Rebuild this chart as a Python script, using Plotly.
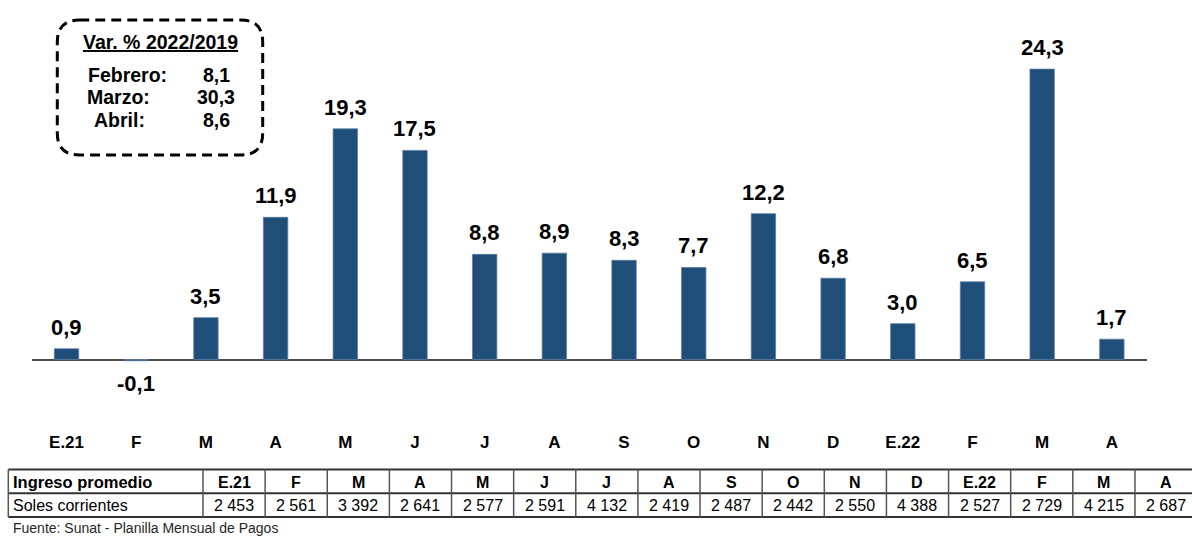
import plotly.graph_objects as go

# ---------------- data ----------------
categories = ["E.21", "F", "M", "A", "M", "J", "J", "A", "S", "O", "N", "D", "E.22", "F", "M", "A"]
var_pct = [0.9, -0.1, 3.5, 11.9, 19.3, 17.5, 8.8, 8.9, 8.3, 7.7, 12.2, 6.8, 3.0, 6.5, 24.3, 1.7]
ingreso = [2453, 2561, 3392, 2641, 2577, 2591, 4132, 2419, 2487, 2442, 2550, 4388, 2527, 2729, 4215, 2687]
table_row1_label = "Ingreso promedio"
table_row2_label = "Soles corrientes"
box_title = "Var. % 2022/2019"
box_labels = ["Febrero:", "Marzo:", "Abril:"]
box_values = [8.1, 30.3, 8.6]
source_text = "Fuente: Sunat - Planilla Mensual de Pagos"

# ---------------- geometry helpers ----------------
W, H = 1192, 536
def fx(px):
    return px / W
def fy(py):
    return 1 - py / H

def fmt_dec(v):
    return f"{v:.1f}".replace(".", ",")

def fmt_thousands(v):
    return f"{v:,}".replace(",", " ")

SANS = "Liberation Sans, Arial, sans-serif"
NARROW = "Liberation Sans Narrow, Arial Narrow, Liberation Sans, Arial, sans-serif"
BAR_COLOR = "#1F4E79"

plot_top, plot_bottom, zero_px = 0, 430, 359.5
px_per_unit = 11.95
y_top = (zero_px - plot_top) / px_per_unit
y_bot = -(plot_bottom - zero_px) / px_per_unit

xs = list(range(len(categories)))

fig = go.Figure()
fig.add_trace(go.Bar(
    x=xs, y=var_pct,
    marker=dict(color=BAR_COLOR, line=dict(color="#5C7EA3", width=0.8)),
    hoverinfo="skip",
))

annotations = []
# value labels
for x, v in zip(xs, var_pct):
    if v >= 0:
        annotations.append(dict(x=x, y=v, xref="x", yref="y", text=fmt_dec(v),
                                showarrow=False, yanchor="bottom", yshift=7,
                                font=dict(family=SANS, size=22, color="black", weight="bold")))
    else:
        annotations.append(dict(x=x, y=v, xref="x", yref="y", text=fmt_dec(v),
                                showarrow=False, yanchor="top", yshift=-8,
                                font=dict(family=SANS, size=22, color="black", weight="bold")))

# --- info box ---
bx0, bx1, by0, by1, r = 57.3, 262.7, 20, 155, 22
def P(x, y):
    return f"{fx(x):.6f},{fy(y):.6f}"
path = (f"M {P(bx0 + r, by0)} L {P(bx1 - r, by0)} Q {P(bx1, by0)} {P(bx1, by0 + r)} "
        f"L {P(bx1, by1 - r)} Q {P(bx1, by1)} {P(bx1 - r, by1)} "
        f"L {P(bx0 + r, by1)} Q {P(bx0, by1)} {P(bx0, by1 - r)} "
        f"L {P(bx0, by0 + r)} Q {P(bx0, by0)} {P(bx0 + r, by0)} Z")
shapes = [dict(type="path", path=path, xref="paper", yref="paper",
               line=dict(color="black", width=3, dash="10px,6px"))]

annotations.append(dict(x=fx(160), y=fy(41.7), xref="paper", yref="paper",
                        text=f"<u>{box_title}</u>", showarrow=False,
                        xanchor="center", yanchor="middle",
                        font=dict(family=SANS, size=19.5, color="black", weight="bold")))
label_left = [86, 85, 92]
row_y = [75, 97.3, 120]
for lab, val, lx, ry in zip(box_labels, box_values, label_left, row_y):
    annotations.append(dict(x=fx(lx), y=fy(ry), xref="paper", yref="paper", text=lab,
                            showarrow=False, xanchor="left", yanchor="middle",
                            font=dict(family=SANS, size=19.5, color="black", weight="bold")))
    annotations.append(dict(x=fx(216), y=fy(ry), xref="paper", yref="paper", text=fmt_dec(val),
                            showarrow=False, xanchor="center", yanchor="middle",
                            font=dict(family=SANS, size=19.5, color="black", weight="bold")))

# --- table ---
t_left, first_w, col_w = 8.3, 194.7, 62.13
t_top, t_mid, t_bot = 469.5, 493.2, 517
t_right = W + 2
line_h = dict(color="#333333", width=2)
line_v = dict(color="#555555", width=1.5)
for yy in (t_top, t_mid, t_bot):
    shapes.append(dict(type="line", xref="paper", yref="paper",
                       x0=fx(t_left), x1=fx(t_right), y0=fy(yy), y1=fy(yy), line=line_h))
col_edges = [t_left, t_left + first_w] + [t_left + first_w + col_w * (k + 1) for k in range(len(categories) - 1)]
for xe in col_edges:
    shapes.append(dict(type="line", xref="paper", yref="paper",
                       x0=fx(xe), x1=fx(xe), y0=fy(t_top), y1=fy(t_bot), line=line_v))

hdr_y, dat_y = 482, 505.5
annotations.append(dict(x=fx(t_left + 3), y=fy(hdr_y), xref="paper", yref="paper",
                        text=table_row1_label, showarrow=False, xanchor="left", yanchor="middle",
                        font=dict(family=NARROW, size=16.5, color="black", weight="bold")))
annotations.append(dict(x=fx(t_left + 3), y=fy(dat_y), xref="paper", yref="paper",
                        text=table_row2_label, showarrow=False, xanchor="left", yanchor="middle",
                        font=dict(family=NARROW, size=16, color="black")))
for k, (cat, val) in enumerate(zip(categories, ingreso)):
    cx = t_left + first_w + col_w * (k + 0.5)
    annotations.append(dict(x=fx(cx), y=fy(hdr_y), xref="paper", yref="paper", text=cat,
                            showarrow=False, xanchor="center", yanchor="middle",
                            font=dict(family=NARROW, size=16, color="black", weight="bold")))
    annotations.append(dict(x=fx(cx), y=fy(dat_y), xref="paper", yref="paper",
                            text=fmt_thousands(val), showarrow=False,
                            xanchor="center", yanchor="middle",
                            font=dict(family=NARROW, size=16, color="black")))

annotations.append(dict(x=fx(t_left + 3), y=fy(527.7), xref="paper", yref="paper",
                        text=source_text, showarrow=False, xanchor="left", yanchor="middle",
                        font=dict(family=NARROW, size=14, color="#262626")))

fig.update_layout(
    width=W, height=H,
    margin=dict(l=0, r=0, t=0, b=0),
    paper_bgcolor="white", plot_bgcolor="white",
    showlegend=False,
    bargap=0.65,
    xaxis=dict(domain=[fx(31.7), fx(1146.7)], range=[-0.5, len(categories) - 0.5],
               tickmode="array", tickvals=xs, ticktext=categories,
               showgrid=False, showline=False, zeroline=False, ticks="",
               tickfont=dict(family=SANS, size=17, color="black", weight="bold")),
    yaxis=dict(domain=[fy(plot_bottom), fy(plot_top)], range=[y_bot, y_top],
               showgrid=False, showticklabels=False, zeroline=True,
               zerolinecolor="#4d4d4d", zerolinewidth=1.5, showline=False),
    shapes=shapes,
    annotations=annotations,
)

fig.write_html("out.html", config={"displayModeBar": False},
               post_script="document.body.style.margin='0px';document.body.style.overflow='hidden';")
